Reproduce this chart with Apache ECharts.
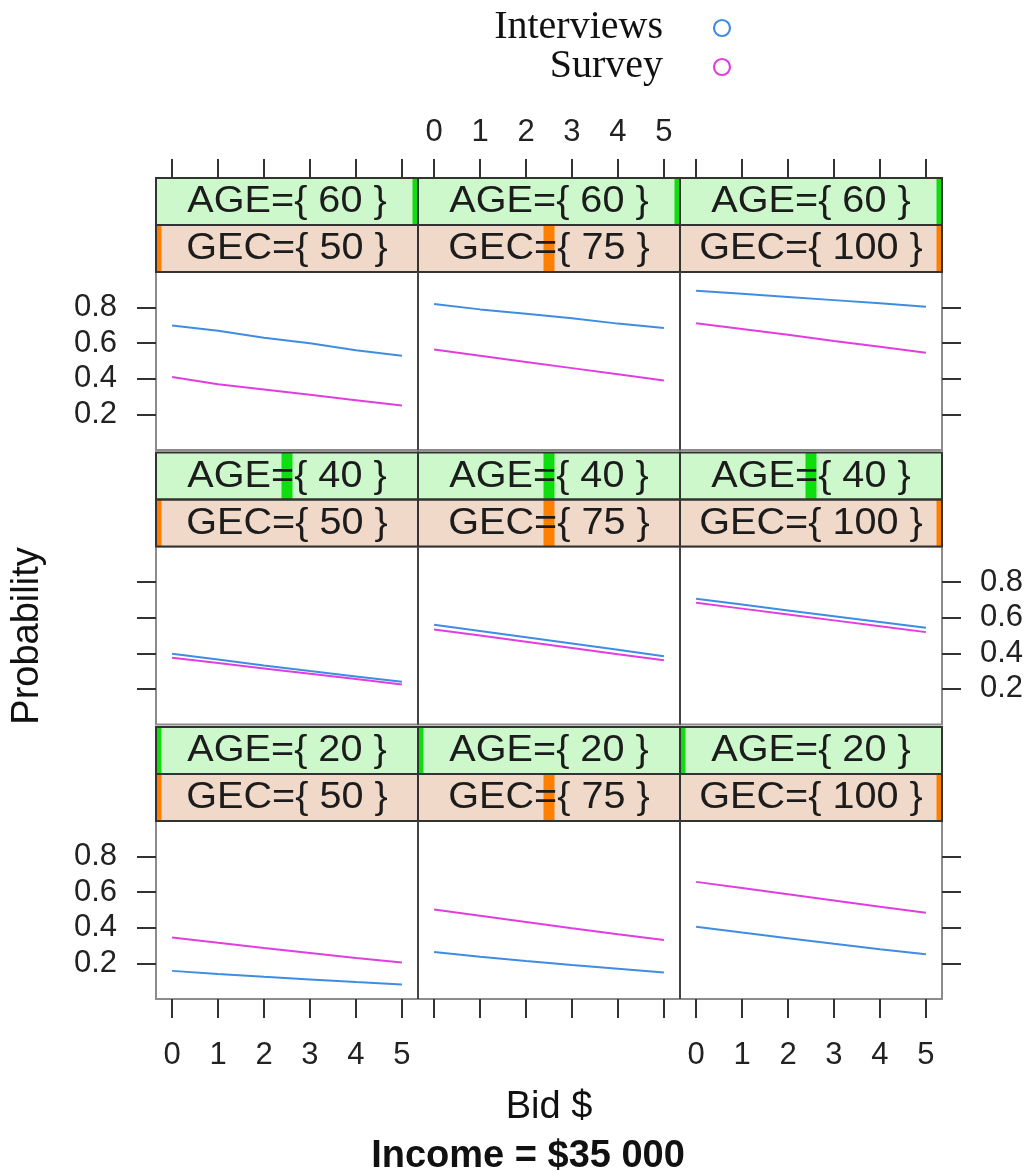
<!DOCTYPE html>
<html><head><meta charset="utf-8">
<script src="https://cdn.jsdelivr.net/npm/echarts@6/dist/echarts.min.js"></script>
<style>html,body{margin:0;padding:0;background:#fff}#c{width:1031px;height:1176px}</style>
</head><body><div id="c"></div>
<script>
// ---------------- data ----------------
const bids = [0, 1, 2, 3, 4, 5];
const xTicks = [0, 1, 2, 3, 4, 5];
const yTicks = [0.2, 0.4, 0.6, 0.8];
const ageLevels = [60, 40, 20];      // panel rows, top to bottom
const gecLevels = [50, 75, 100];     // panel columns, left to right
const seriesNames = ['Interviews', 'Survey'];
const xLabel = 'Bid $';
const yLabel = 'Probability';
const mainTitle = 'Income = $35 000';

const interviews_age60_gec50  = [0.70, 0.67, 0.63, 0.60, 0.56, 0.53];
const survey_age60_gec50      = [0.41, 0.37, 0.34, 0.31, 0.28, 0.25];
const interviews_age60_gec75  = [0.82, 0.79, 0.765, 0.74, 0.71, 0.685];
const survey_age60_gec75      = [0.565, 0.53, 0.495, 0.46, 0.425, 0.39];
const interviews_age60_gec100 = [0.895, 0.878, 0.86, 0.842, 0.824, 0.805];
const survey_age60_gec100     = [0.712, 0.68, 0.647, 0.613, 0.58, 0.547];

const interviews_age40_gec50  = [0.397, 0.365, 0.332, 0.30, 0.27, 0.24];
const survey_age40_gec50      = [0.375, 0.345, 0.315, 0.285, 0.255, 0.225];
const interviews_age40_gec75  = [0.56, 0.525, 0.49, 0.455, 0.42, 0.384];
const survey_age40_gec75      = [0.534, 0.50, 0.465, 0.43, 0.395, 0.361];
const interviews_age40_gec100 = [0.706, 0.674, 0.641, 0.608, 0.576, 0.543];
const survey_age40_gec100     = [0.684, 0.651, 0.618, 0.585, 0.552, 0.519];

const interviews_age20_gec50  = [0.158, 0.141, 0.125, 0.11, 0.095, 0.082];
const survey_age20_gec50      = [0.346, 0.316, 0.287, 0.259, 0.231, 0.205];
const interviews_age20_gec75  = [0.264, 0.238, 0.214, 0.191, 0.17, 0.149];
const survey_age20_gec75      = [0.503, 0.468, 0.433, 0.398, 0.364, 0.331];
const interviews_age20_gec100 = [0.406, 0.373, 0.341, 0.31, 0.28, 0.251];
const survey_age20_gec100     = [0.658, 0.623, 0.588, 0.553, 0.518, 0.484];

const panelValues = [
  [[interviews_age60_gec50, survey_age60_gec50], [interviews_age60_gec75, survey_age60_gec75], [interviews_age60_gec100, survey_age60_gec100]],
  [[interviews_age40_gec50, survey_age40_gec50], [interviews_age40_gec75, survey_age40_gec75], [interviews_age40_gec100, survey_age40_gec100]],
  [[interviews_age20_gec50, survey_age20_gec50], [interviews_age20_gec75, survey_age20_gec75], [interviews_age20_gec100, survey_age20_gec100]]
];

// ---------------- layout & style ----------------
const PL = 156, PW = 262;          // panel left, panel width
const ST0 = 178, ROWP = 274.5;      // first strip top, row pitch
const SH = 47, PH = 178;           // strip height, panel height
const XMIN = -0.35, XMAX = 5.35, YMIN = 0, YMAX = 1;
const colors = ['#3f8de3', '#e03ee0'];
const SANS = 'Liberation Sans, Arial, Helvetica, sans-serif';
const SERIF = 'Liberation Serif, Times New Roman, serif';
const TICK = { show: true, inside: false, length: 19, lineStyle: { color: '#333', width: 2 } };
const LABEL = { fontFamily: SANS, fontSize: 31, color: '#222', hideOverlap: false };
const NOLINE = { show: false, onZero: false };

const grids = [], xAxes = [], yAxes = [], series = [], graphics = [];
const panelTop = r => ST0 + r * ROWP + 2 * SH;

for (let r = 0; r < 3; r++) {
  for (let c = 0; c < 3; c++) {
    const g = r * 3 + c;
    grids.push({ left: PL + c * PW, top: panelTop(r), width: PW, height: PH,
      show: true, borderColor: '#8c8c8c', borderWidth: 2, backgroundColor: '#fff',
      containLabel: false, outerBoundsMode: 'none' });
    const bottomRow = r === 2;
    xAxes.push({ type: 'value', gridIndex: g, min: XMIN, max: XMAX, position: 'bottom',
      axisLine: NOLINE, splitLine: { show: false },
      axisTick: Object.assign({}, TICK, { show: bottomRow, customValues: xTicks }),
      axisLabel: Object.assign({}, LABEL, { show: bottomRow && c !== 1, margin: 41, customValues: xTicks })
    });
    const side = c === 2 ? 'right' : 'left';
    const showTicks = c !== 1;
    const showLab = (c === 0 && r !== 1) || (c === 2 && r === 1);
    yAxes.push({ type: 'value', gridIndex: g, min: YMIN, max: YMAX, position: side,
      axisLine: NOLINE, splitLine: { show: false },
      axisTick: Object.assign({}, TICK, { show: showTicks, customValues: yTicks }),
      axisLabel: Object.assign({}, LABEL, { show: showLab, margin: c === 2 ? 38 : 39, customValues: yTicks })
    });
    for (let s = 0; s < 2; s++) {
      series.push({ type: 'line', name: seriesNames[s], xAxisIndex: g, yAxisIndex: g,
        data: bids.map((b, i) => [b, panelValues[r][c][s][i]]),
        showSymbol: false, symbol: 'none', smooth: false,
        lineStyle: { color: colors[s], width: 2 }, itemStyle: { color: colors[s] }, z: 3 + s });
    }
  }
}
// top axes (above the top strips)
for (let c = 0; c < 3; c++) {
  const g = 9 + c;
  grids.push({ left: PL + c * PW, top: ST0, width: PW, height: 2 * SH, show: false,
    containLabel: false, outerBoundsMode: 'none' });
  xAxes.push({ type: 'value', gridIndex: g, min: XMIN, max: XMAX, position: 'top',
    axisLine: NOLINE, splitLine: { show: false },
    axisTick: Object.assign({}, TICK, { customValues: xTicks }),
    axisLabel: Object.assign({}, LABEL, { show: c === 1, margin: 30, customValues: xTicks })
  });
  yAxes.push({ type: 'value', gridIndex: g, min: 0, max: 1, show: false, axisLine: NOLINE });
}

// strips
function strip(x, y, w, h, bg, bar, frac, text) {
  graphics.push({ type: 'rect', shape: { x, y, width: w, height: h }, style: { fill: bg }, z: 10 });
  const bw = 11;
  let bx0 = Math.max(x, x + frac * w - bw / 2), bx1 = Math.min(x + w, x + frac * w + bw / 2);
  graphics.push({ type: 'rect', shape: { x: bx0, y, width: bx1 - bx0, height: h }, style: { fill: bar }, z: 11 });
  graphics.push({ type: 'text', x: x + w / 2, y: y + h / 2 + 1, scaleX: 1.1, z: 13,
    style: { text, fontFamily: SANS, fontSize: 36, fill: '#1c1c1c', align: 'center', verticalAlign: 'middle' } });
  graphics.push({ type: 'rect', shape: { x, y, width: w, height: h }, style: { fill: 'none', stroke: '#333', lineWidth: 2 }, z: 12 });
}
const ageMin = Math.min(...ageLevels), ageMax = Math.max(...ageLevels);
const gecMin = Math.min(...gecLevels), gecMax = Math.max(...gecLevels);
for (let r = 0; r < 3; r++) {
  for (let c = 0; c < 3; c++) {
    const x = PL + c * PW, y = ST0 + r * ROWP;
    strip(x, y, PW, SH, '#ccf8cc', '#10dd10', (ageLevels[r] - ageMin) / (ageMax - ageMin), 'AGE={ ' + ageLevels[r] + ' }');
    strip(x, y + SH, PW, SH, '#f0d9c9', '#ff8000', (gecLevels[c] - gecMin) / (gecMax - gecMin), 'GEC={ ' + gecLevels[c] + ' }');
  }
  // inner column dividers over the panels
  for (let c = 1; c < 3; c++) {
    graphics.push({ type: 'line', shape: { x1: PL + c * PW, y1: panelTop(r), x2: PL + c * PW, y2: panelTop(r) + PH },
      style: { stroke: '#444', lineWidth: 2 }, z: 14 });
  }
}

// legend (text left of hollow circle)
seriesNames.forEach((n, i) => {
  graphics.push({ type: 'text', x: 663, y: 27 + i * 39, z: 20,
    style: { text: n, fontFamily: SERIF, fontSize: 40, fill: '#111', align: 'right', verticalAlign: 'middle' } });
  graphics.push({ type: 'circle', shape: { cx: 722, cy: 28 + i * 39, r: 8 }, z: 20,
    style: { fill: 'none', stroke: colors[i], lineWidth: 2.2 } });
});
// axis titles
graphics.push({ type: 'text', x: 549, y: 1108, z: 20,
  style: { text: xLabel, fontFamily: SANS, fontSize: 38, fill: '#111', align: 'center', verticalAlign: 'middle' } });
graphics.push({ type: 'text', x: 528, y: 1157, z: 20,
  style: { text: mainTitle, fontFamily: SANS, fontSize: 38, fontWeight: 'bold', fill: '#111', align: 'center', verticalAlign: 'middle' } });
graphics.push({ type: 'text', x: 28, y: 636, rotation: Math.PI / 2, z: 20,
  style: { text: yLabel, fontFamily: SANS, fontSize: 38, fill: '#111', align: 'center', verticalAlign: 'middle' } });

const chart = echarts.init(document.getElementById('c'), null, { renderer: 'canvas' });
chart.setOption({
  animation: false,
  backgroundColor: '#fff',
  grid: grids, xAxis: xAxes, yAxis: yAxes, series,
  graphic: { elements: graphics }
});
</script></body></html>
